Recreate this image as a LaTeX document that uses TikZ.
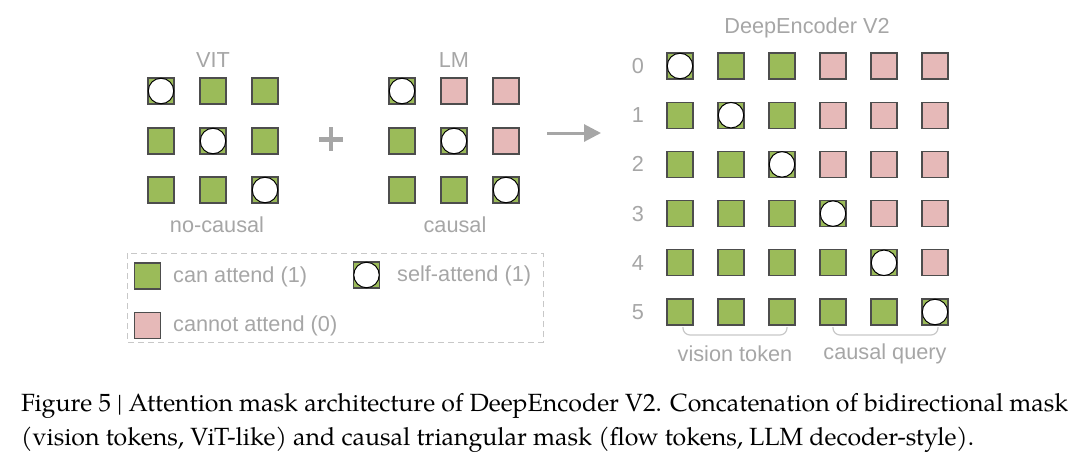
\documentclass[tikz,border=0pt]{standalone}
\usepackage{fontspec}
\setmainfont{Liberation Sans}
\newfontfamily\capfont{texgyrepagella-regular.otf}
\usetikzlibrary{arrows.meta}
\definecolor{cgreen}{HTML}{9BBB59}
\definecolor{cpink}{HTML}{E6B9B8}
\definecolor{cborder}{HTML}{4D4D4D}
\definecolor{ctext}{HTML}{A6A6A6}
\definecolor{cdash}{HTML}{C8C8C8}
\tikzset{
  cell/.style={draw=cborder, line width=1.1pt, minimum size=26pt, inner sep=0pt, rectangle},
  yes/.style={cell, fill=cgreen},
  no/.style={cell, fill=cpink},
  selfc/.style={circle, draw=black, fill=white, line width=1pt, minimum size=25.5pt, inner sep=0pt},
  lbl/.style={text=ctext, font=\fontsize{21.7}{24}\selectfont, inner sep=0pt},
  brace/.style={draw=cdash, line width=1.2pt, rounded corners=7pt},
  captxt/.style={anchor=base west, inner sep=0pt, font=\capfont\fontsize{24.9}{28}\selectfont},
}
\begin{document}
\begin{tikzpicture}[x=1pt, y=-1pt]
\useasboundingbox (0,0) rectangle (1080,469);
% VIT grid
\foreach \r/\yy in {0/91,1/141,2/190}{
  \foreach \c/\xx in {0/161,1/213,2/265}{
    \node[yes] (v-\r-\c) at (\xx,\yy) {};
  }
}
\foreach \i in {0,1,2}{ \node[selfc] (vs-\i) at (v-\i-\i) {}; }
\node[lbl] (vit) at (213,60) {VIT};
\node[lbl] (noc) at (217,225) {no-causal};
% LM grid
\foreach \r/\yy in {0/91,1/141,2/190}{
  \foreach \c/\xx in {0/402,1/454,2/506}{
    \pgfmathtruncatemacro{\isno}{\c>\r ? 1 : 0}
    \ifnum\isno=1
      \node[no] (l-\r-\c) at (\xx,\yy) {};
    \else
      \node[yes] (l-\r-\c) at (\xx,\yy) {};
    \fi
  }
}
\foreach \i in {0,1,2}{ \node[selfc] (ls-\i) at (l-\i-\i) {}; }
\node[lbl] (lm) at (454,60) {LM};
\node[lbl] (cau) at (455,225) {causal};
% plus
\node (plus) at (331,139) {};
\fill[ctext] (319,137) rectangle (343,141.5);
\fill[ctext] (328.8,127) rectangle (333.2,151);
% arrow
\coordinate (a1) at (547,133);
\coordinate (a2) at (601,133);
\draw[ctext, line width=3pt, -{Triangle[length=17pt,width=17pt]}] (a1) -- (a2);
% legend
\draw[cdash, line width=1pt, dash pattern=on 6pt off 4pt] (127,253) rectangle (543,342);
\node[yes] (lg1) at (147.5,276) {};
\node[lbl, anchor=west] (lt1) at (173,277) {can attend (1)};
\node[yes] (lg2) at (366.5,275) {};
\node[selfc] (lg2c) at (lg2) {};
\node[lbl, anchor=west] (lt2) at (397,276) {self-attend (1)};
\node[no] (lg3) at (147.5,325.5) {};
\node[lbl, anchor=west] (lt3) at (173,326) {cannot attend (0)};
% DeepEncoder grid
\foreach \r/\yy in {0/66,1/115.2,2/164.4,3/213.6,4/262.8,5/312}{
  \node[lbl] (rl-\r) at (638,\yy) {\r};
  \foreach \c/\xx in {0/680,1/731,2/782,3/833,4/884,5/935}{
    \pgfmathtruncatemacro{\isno}{(\c>\r) && (\c>2) ? 1 : 0}
    \ifnum\isno=1
      \node[no] (d-\r-\c) at (\xx,\yy) {};
    \else
      \node[yes] (d-\r-\c) at (\xx,\yy) {};
    \fi
  }
}
\foreach \i in {0,...,5}{ \node[selfc] (ds-\i) at (d-\i-\i) {}; }
\node[lbl] (de) at (807,28) {DeepEncoder V2};
% braces
\draw[brace] (683,327) -- (683,335) -- (787,335) -- (787,327);
\draw[brace] (833,327) -- (833,335) -- (938,335) -- (938,327);
\node[lbl] (vt) at (735,354) {vision token};
\node[lbl] (cq) at (885,354) {causal query};
% caption
\node[captxt] (cap1) at (21,411) {Figure 5 | Attention mask architecture of DeepEncoder V2. Concatenation of bidirectional mask};
\node[captxt] (cap2) at (21,445) {(vision tokens, ViT-like) and causal triangular mask (flow tokens, LLM decoder-style).};
\end{tikzpicture}
\end{document}
